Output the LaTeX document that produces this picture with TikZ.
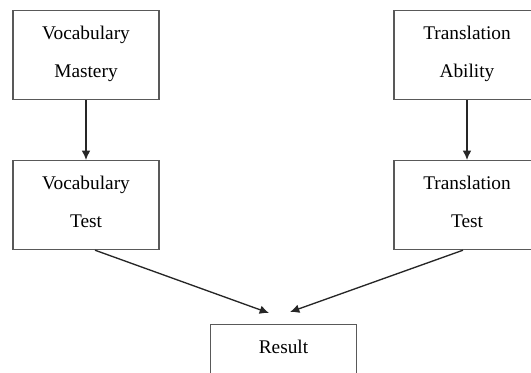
\documentclass[tikz,border=0pt]{standalone}
\usepackage{fontspec}
\setmainfont{Liberation Serif}
\usetikzlibrary{calc}
\usetikzlibrary{arrows.meta}
\tikzset{>={Latex[length=7pt,width=6.5pt]}}
\tikzset{box/.style={draw=black!65,line width=0.9pt,minimum width=109.5pt,align=center,
		text height=38.5pt,text depth=4.75pt,inner ysep=11.75pt,anchor=north,
		font=\fontsize{14.5}{28.5}\selectfont},
	onebox/.style={box,text height=10pt,text depth=33.25pt}}

\begin{document}
\begin{tikzpicture}[x=0.75pt,y=-0.75pt]
			\useasboundingbox (0,0) rectangle (531,373);
			\clip (0,0) rectangle (531,373);
			\node[box] (vm) at (86,10) {Vocabulary\\Mastery};
			\node[box] (ta) at (467,10) {Translation\\Ability};
			\node[box] (vt) at (86,160) {Vocabulary\\Test};
			\node[box] (tt) at (467,160) {Translation\\Test};
			\node[onebox] (res) at (283.5,324) {Result};
			\coordinate (inl) at ($(res.north)+(-14.5,-11)$);
			\coordinate (inr) at ($(res.north)+(6.5,-12)$);
			\draw[->,line width=1pt,black!85] (vm)--(vt);
			\draw[->,line width=1pt,black!85] (ta)--(tt);
			\draw[->,line width=1pt,black!85] ($(vt.south)+(9,0)$)--(inl);
			\draw[->,line width=1pt,black!85] ($(tt.south)+(-4,0)$)--(inr);
		\end{tikzpicture}
\end{document}
